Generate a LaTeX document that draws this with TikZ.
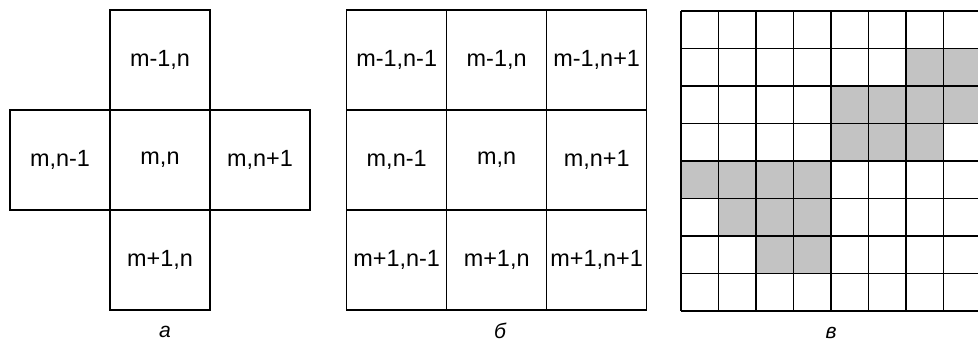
\documentclass[tikz,border=0pt]{standalone}
\usepackage{fontspec}
\setmainfont{Liberation Sans}
\usepackage{tikz}
\usetikzlibrary{positioning}
\definecolor{dotgray}{RGB}{195, 195, 195}

\begin{document}
\begin{tikzpicture}[
  cell/.style={rectangle, draw, line width=1.1pt, minimum size=3cm,
               inner sep=0pt, outer sep=0pt, font=\fontsize{20}{22}\selectfont},
  caption/.style={font=\fontsize{18}{20}\selectfont\itshape},
  gridline/.style={line width=1.1pt},
  dotted cell/.style={fill=dotgray}
]
  \useasboundingbox (0,0) rectangle (29.34,-10.35);

  % a: cross neighbourhood
  \node[cell] (amid) at (4.8,-4.8) {m,n};
  \node[cell, above=0pt of amid] (aup)    {m-1,n};
  \node[cell, below=0pt of amid] (adown)  {m+1,n};
  \node[cell, left=0pt of amid]  (aleft)  {m,n-1};
  \node[cell, right=0pt of amid] (aright) {m,n+1};
  \node[caption, below=0.36cm of adown, xshift=0.15cm] (acap) {a};

  % b: 3x3 neighbourhood
  \node[cell] (bmid) at (14.9,-4.8) {m,n};
  \node[cell, above=0pt of bmid]   (bup)    {m-1,n};
  \node[cell, below=0pt of bmid]   (bdown)  {m+1,n};
  \node[cell, left=0pt of bmid]    (bleft)  {m,n-1};
  \node[cell, right=0pt of bmid]   (bright) {m,n+1};
  \node[cell, left=0pt of bup]     (bul)    {m-1,n-1};
  \node[cell, right=0pt of bup]    (bur)    {m-1,n+1};
  \node[cell, left=0pt of bdown]   (bdl)    {m+1,n-1};
  \node[cell, right=0pt of bdown]  (bdr)    {m+1,n+1};
  \draw[line width=1.5pt] (bdl.north west) -- (bdr.north east);
  \node[caption, below=0.26cm of bdown, xshift=0.1cm] (bcap) {б};

  % v: pixel grid with shaded region
  \begin{scope}
    \clip (20,0) rectangle (29.34,-10);
    \foreach \r/\c in {1/6,1/7,2/4,2/5,2/6,2/7,3/4,3/5,3/6,
                       4/0,4/1,4/2,4/3,5/1,5/2,5/3,6/2,6/3}
      \fill[dotted cell] (20.43+1.125*\c,-0.33-1.125*\r) rectangle ++(1.125,-1.125);
    \foreach \k in {0,...,7}
      \draw[gridline] (20.43+1.125*\k,-0.33) -- ++(0,-9);
    \foreach \k in {0,...,8}
      \draw[gridline] (20.43,-0.33-1.125*\k) -- (29.34,-0.33-1.125*\k);
  \end{scope}
  \coordinate (vbot) at (24.93,-9.33);
  \node[caption, below=0.36cm of vbot] (vcap) {в};
\end{tikzpicture}
\end{document}
